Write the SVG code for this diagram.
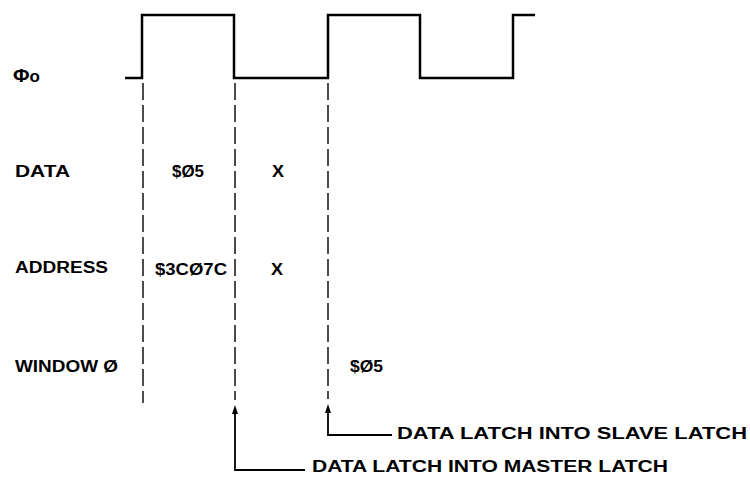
<svg xmlns="http://www.w3.org/2000/svg" width="750" height="477" viewBox="0 0 750 477">
<style>
text{font-family:"Liberation Sans",Arial,sans-serif;font-weight:bold;font-size:16px;fill:#000}
.wave{fill:none;stroke:#000;stroke-width:2.5}
.dash{fill:none;stroke:#000;stroke-width:1.4;stroke-dasharray:17,5}
.lead{fill:none;stroke:#000;stroke-width:1.8}
.head{fill:#000}
</style>
<g id="labels">
<text x="13" y="82" textLength="27" lengthAdjust="spacingAndGlyphs"><tspan style="font-size:19px">Φ</tspan>o</text>
<text x="15" y="177" textLength="55" lengthAdjust="spacingAndGlyphs">DATA</text>
<text x="15" y="273" textLength="93" lengthAdjust="spacingAndGlyphs">ADDRESS</text>
<text x="15" y="372" textLength="103" lengthAdjust="spacingAndGlyphs">WINDOW Ø</text>
</g>
<g id="clock">
<path class="wave" d="M125,78 H142 V15 H234 V78 H328 V15 H420 V78 H513 V15 H535"/>
</g>
<g id="values">
<text x="172" y="177" textLength="32" lengthAdjust="spacingAndGlyphs">$Ø5</text>
<text x="272" y="177" textLength="12" lengthAdjust="spacingAndGlyphs">X</text>
<text x="155" y="275" textLength="72" lengthAdjust="spacingAndGlyphs">$3CØ7C</text>
<text x="271" y="275" textLength="12" lengthAdjust="spacingAndGlyphs">X</text>
<text x="350" y="372" textLength="33" lengthAdjust="spacingAndGlyphs">$Ø5</text>
</g>
<g id="connectors">
<line class="dash" x1="143" y1="83" x2="143" y2="403"/>
<line class="dash" x1="235" y1="83" x2="235" y2="400"/>
<line class="dash" x1="328" y1="83" x2="328" y2="399"/>
<path class="lead" d="M305,470 H235 V412"/>
<polygon class="head" points="235,405 232,414 238,414"/>
<path class="lead" d="M392,435 H328 V411"/>
<polygon class="head" points="328,404 325,413 331,413"/>
</g>
<g id="note-master">
<text x="312" y="472" textLength="356" lengthAdjust="spacingAndGlyphs">DATA LATCH INTO MASTER LATCH</text>
</g>
<g id="note-slave">
<text x="397" y="439" textLength="350" lengthAdjust="spacingAndGlyphs">DATA LATCH INTO SLAVE  LATCH</text>
</g>
</svg>
